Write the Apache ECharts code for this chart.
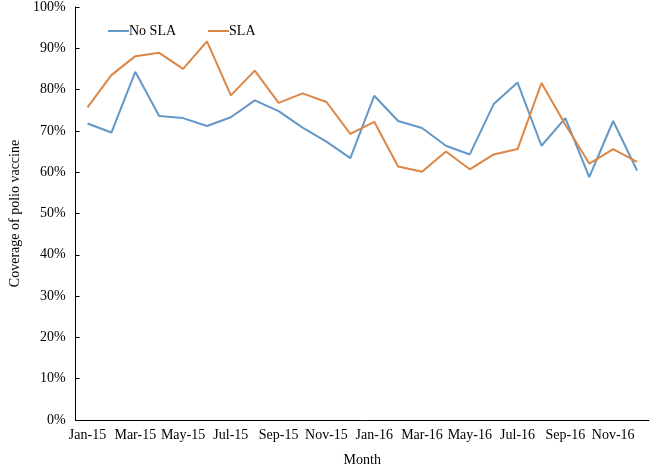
<!DOCTYPE html>
<html>
<head>
<meta charset="utf-8">
<script src="https://cdn.jsdelivr.net/npm/echarts@6/dist/echarts.min.js"></script>
<style>html,body{margin:0;padding:0;background:#fff;}#c{width:656px;height:472px;}</style>
</head>
<body>
<div id="c"></div>
<script>
var months = ['Jan-15','Feb-15','Mar-15','Apr-15','May-15','Jun-15','Jul-15','Aug-15','Sep-15','Oct-15','Nov-15','Dec-15',
              'Jan-16','Feb-16','Mar-16','Apr-16','May-16','Jun-16','Jul-16','Aug-16','Sep-16','Oct-16','Nov-16','Dec-16'];
var noSLA = [71.8, 69.6, 84.3, 73.6, 73.1, 71.2, 73.3, 77.4, 74.8, 70.8, 67.4, 63.4,
             78.5, 72.4, 70.7, 66.4, 64.3, 76.5, 81.7, 66.4, 73.1, 58.8, 72.4, 60.4];
var sla = [75.7, 83.5, 88.1, 88.9, 85.0, 91.7, 78.6, 84.6, 76.8, 79.1, 77.0, 69.3,
           72.2, 61.4, 60.1, 65.0, 60.7, 64.3, 65.6, 81.6, 71.5, 62.1, 65.6, 62.5];
var seriesNames = ['No SLA', 'SLA'];
var xTitle = 'Month';
var yTitle = 'Coverage of polio vaccine';

var font = "'Liberation Serif', 'DejaVu Serif', serif";
var chart = echarts.init(document.getElementById('c'), null, {renderer: 'canvas'});
chart.setOption({
  animation: false,
  backgroundColor: '#fff',
  textStyle: {fontFamily: font, color: '#000'},
  grid: {left: 63, right: 7, top: 6, bottom: 47, containLabel: false},
  legend: {
    left: 103, top: 19,
    itemWidth: 21, itemHeight: 2, itemGap: 32,
    icon: 'rect',
    textStyle: {fontFamily: font, fontSize: 14, color: '#000', padding: [0, 0, 0, -5]},
    data: seriesNames
  },
  xAxis: {
    type: 'category',
    data: months,
    boundaryGap: true,
    name: xTitle,
    nameLocation: 'middle',
    nameGap: 33,
    nameTextStyle: {fontFamily: font, fontSize: 14, color: '#000'},
    axisLine: {lineStyle: {color: '#000', width: 1}},
    axisTick: {inside: true, length: 4, interval: 1, lineStyle: {color: '#000'}},
    axisLabel: {interval: 1, fontFamily: font, fontSize: 14, color: '#000', margin: 8},
    splitLine: {show: false}
  },
  yAxis: {
    type: 'value',
    min: 0, max: 100, interval: 10,
    name: yTitle,
    nameLocation: 'middle',
    nameGap: 49,
    nameTextStyle: {fontFamily: font, fontSize: 14, color: '#000'},
    axisLine: {show: true, lineStyle: {color: '#000', width: 1}},
    axisTick: {show: true, inside: true, length: 4, lineStyle: {color: '#000'}},
    axisLabel: {fontFamily: font, fontSize: 14, color: '#000', margin: 10, formatter: '{value}%'},
    splitLine: {show: false}
  },
  series: [
    {name: seriesNames[0], type: 'line', data: noSLA, symbol: 'none', lineStyle: {width: 2, color: '#6398c6'}, itemStyle: {color: '#6398c6'}},
    {name: seriesNames[1], type: 'line', data: sla, symbol: 'none', lineStyle: {width: 2, color: '#dc8646'}, itemStyle: {color: '#dc8646'}}
  ]
});
</script>
</body>
</html>
